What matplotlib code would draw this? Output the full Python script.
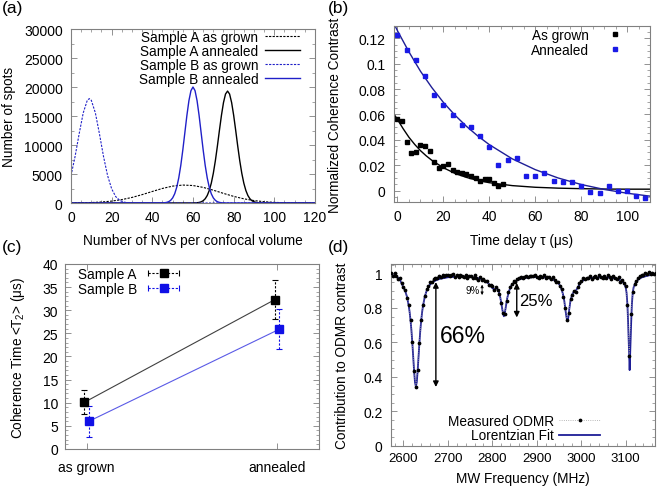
import numpy as np
import matplotlib
matplotlib.use("Agg")
import matplotlib.pyplot as plt
from matplotlib.ticker import AutoMinorLocator, FuncFormatter
from matplotlib.container import ErrorbarContainer
from matplotlib.legend_handler import HandlerErrorbar

plt.rcParams['font.family'] = ['Liberation Sans', 'DejaVu Sans']
plt.rcParams['mathtext.fontset'] = 'custom'
plt.rcParams['mathtext.rm'] = 'Liberation Sans'
plt.rcParams['mathtext.it'] = 'Liberation Sans:italic'

# ---------------- (a) histogram distributions ----------------
a_x_bg = [0, 2, 4, 6, 8, 9, 10, 12, 14, 16, 18, 20, 22, 24, 26, 28, 30, 120]
a_y_bg = [4720, 8010, 11910, 15520, 17700, 18000, 17700, 15520, 11910, 8010, 4720, 2440, 1100, 440, 152, 46, 11, 0]

a_x_ba = [0, 44, 46, 47, 48, 49, 50, 51, 52, 53, 54, 55, 56, 57, 58, 59, 60, 61, 62, 63, 64, 65, 66,
          67, 68, 69, 70, 71, 72, 73, 74, 76, 120]
a_y_ba = [0, 10, 44, 102, 222, 456, 880, 1590, 2710, 4330, 6490, 9160, 12130, 15100, 17650, 19380, 20000,
          19380, 17650, 15100, 12130, 9160, 6490, 4330, 2710, 1590, 880, 456, 222, 102, 44, 10, 0]

a_x_aa = [0, 60, 62, 63, 64, 65, 66, 67, 68, 69, 70, 71, 72, 73, 74, 75, 76, 77, 78, 79, 80, 81, 82,
          83, 84, 85, 86, 87, 88, 89, 90, 91, 92, 94, 120]
a_y_aa = [0, 10, 45, 96, 200, 395, 730, 1290, 2160, 3420, 5130, 7290, 9820, 12530, 15130, 17320, 18790,
          19300, 18790, 17320, 15130, 12530, 9820, 7290, 5130, 3420, 2160, 1290, 730, 395, 200, 96, 45, 10, 0]

a_x_ag = [0, 5, 10, 15, 20, 25, 30, 35, 40, 45, 50, 55, 60, 65, 70, 75, 80, 85, 90, 95, 100, 105, 110, 115, 120]
a_y_ag = [14, 34, 80, 169, 330, 588, 962, 1446, 1991, 2515, 2913, 3095, 3015, 2695, 2209, 1660, 1144, 724,
          420, 223, 109, 49, 20, 8, 3]

# ---------------- (b) coherence contrast ----------------
b_t_grown = [0, 2, 4, 6, 8, 10, 12, 14, 16, 18, 20, 22, 24, 26, 28, 30, 32, 34, 36, 38, 40, 42, 44, 46]
b_c_grown = [0.0563, 0.0545, 0.038, 0.0296, 0.030, 0.0359, 0.0348, 0.0314, 0.0223, 0.0176, 0.019, 0.021,
             0.0165, 0.0144, 0.0139, 0.0131, 0.0118, 0.010, 0.0079, 0.0092, 0.0092, 0.006, 0.0039, 0.005]
b_t_ann = [0, 4, 8, 12, 16, 20, 24, 28, 32, 36, 40, 44, 48, 52, 56, 60, 64, 68, 72, 76, 80, 84, 88, 92,
           96, 100, 104, 108]
b_c_ann = [0.1223, 0.1108, 0.1027, 0.090, 0.0752, 0.0673, 0.0597, 0.0516, 0.0498, 0.0427, 0.034, 0.0202,
           0.0241, 0.0259, 0.0118, 0.0118, 0.0139, 0.0079, 0.0065, 0.0065, 0.0034, -0.0013, -0.0018,
           0.0039, 0.0, 0.0, -0.0039, -0.006]
b_fit_t_grown = [-1.5, 0, 2.5, 5, 7.5, 10, 12.5, 15, 20, 25, 30, 35, 40, 50, 60, 70, 80, 90, 100, 110]
b_fit_grown = [0.0602, 0.056, 0.0487, 0.042, 0.0364, 0.0315, 0.0274, 0.0238, 0.018, 0.0136, 0.0104,
               0.0080, 0.0062, 0.0039, 0.0026, 0.0019, 0.0015, 0.0012, 0.0011, 0.0011]
b_fit_t_ann = [-1.5, 0, 5, 10, 15, 20, 25, 30, 35, 40, 50, 60, 70, 80, 90, 100, 110]
b_fit_ann = [0.1315, 0.126, 0.1093, 0.0941, 0.0811, 0.0695, 0.0595, 0.0507, 0.0430, 0.0362, 0.0250,
             0.0165, 0.0099, 0.0048, 0.0009, -0.0021, -0.0044]

# ---------------- (c) coherence time ----------------
c_categories = ['as grown', 'annealed']
c_A = [10.1, 32.3]
c_A_err = [2.6, 4.3]
c_B = [6.0, 25.9]
c_B_err = [3.4, 4.35]

# ---------------- (d) ODMR ----------------
d_freq = np.arange(2572, 3169, 4)
d_meas = [1.001, 0.987, 1.000, 0.984, 0.969, 0.973, 0.947, 0.920, 0.905, 0.860,
          0.815, 0.728, 0.603, 0.433, 0.342, 0.440, 0.597, 0.733, 0.818, 0.870,
          0.910, 0.925, 0.948, 0.952, 0.967, 0.975, 0.972, 0.984, 0.980, 0.991,
          0.983, 0.989, 0.994, 0.985, 0.991, 0.998, 0.982, 0.994, 0.978, 0.994,
          0.988, 0.982, 0.993, 0.976, 0.983, 0.988, 0.975, 0.990, 0.976, 0.965,
          0.978, 0.962, 0.968, 0.957, 0.956, 0.935, 0.931, 0.925, 0.906, 0.920,
          0.905, 0.883, 0.830, 0.773, 0.767, 0.840, 0.890, 0.920, 0.940, 0.955,
          0.953, 0.970, 0.976, 0.982, 0.973, 0.978, 0.988, 0.977, 0.986, 0.984,
          0.983, 0.993, 0.982, 0.976, 0.987, 0.979, 0.989, 0.972, 0.978, 0.982,
          0.967, 0.980, 0.962, 0.950, 0.950, 0.930, 0.910, 0.863, 0.800, 0.733,
          0.772, 0.850, 0.877, 0.900, 0.895, 0.920, 0.946, 0.958, 0.975, 0.970,
          0.975, 0.972, 0.985, 0.970, 0.979, 0.986, 0.974, 0.991, 0.979, 0.971,
          0.986, 0.973, 0.989, 0.978, 0.969, 0.984, 0.976, 0.967, 0.980, 0.953,
          0.962, 0.945, 0.925, 0.815, 0.520, 0.765, 0.895, 0.940, 0.955, 0.972,
          0.985, 0.990, 0.993, 1.002, 0.998, 1.006, 0.995, 1.003, 0.999, 1.005]
d_fit_f = [2572, 2580, 2588, 2593, 2598, 2604, 2608, 2612, 2614, 2616, 2618, 2620, 2622, 2624, 2626,
           2628, 2630, 2632, 2634, 2636, 2638, 2640, 2642, 2644, 2648, 2652, 2658, 2666, 2680, 2700,
           2720, 2740, 2760, 2775, 2785, 2792, 2797, 2801, 2805, 2809, 2812, 2815, 2818, 2820, 2822,
           2824, 2826, 2828, 2830, 2833, 2837, 2843, 2850, 2862, 2880, 2900, 2920, 2935, 2945, 2950,
           2955, 2959, 2962, 2965, 2967, 2969, 2971, 2973, 2976, 2980, 2984, 2988, 2992, 2997, 3003,
           3013, 3030, 3050, 3070, 3082, 3090, 3096, 3100, 3102, 3104, 3105.5, 3107, 3109, 3111,
           3112.5, 3114, 3116, 3118, 3122, 3128, 3136, 3150, 3168]
d_fit = [0.993, 0.988, 0.975, 0.96, 0.93, 0.899, 0.865, 0.812, 0.775, 0.728, 0.67, 0.599, 0.517, 0.435,
         0.37, 0.345, 0.37, 0.435, 0.517, 0.599, 0.67, 0.728, 0.775, 0.812, 0.865, 0.899, 0.93, 0.952,
         0.968, 0.978, 0.982, 0.982, 0.977, 0.968, 0.955, 0.94, 0.925, 0.913, 0.908, 0.915, 0.908, 0.89,
         0.86, 0.83, 0.80, 0.77, 0.752, 0.77, 0.80, 0.85, 0.895, 0.93, 0.952, 0.968, 0.977, 0.98, 0.977,
         0.968, 0.953, 0.94, 0.915, 0.88, 0.84, 0.78, 0.745, 0.725, 0.745, 0.79, 0.845, 0.88, 0.895,
         0.9, 0.918, 0.94, 0.958, 0.97, 0.977, 0.978, 0.975, 0.967, 0.958, 0.945, 0.92, 0.89, 0.82, 0.72,
         0.6, 0.44, 0.6, 0.72, 0.82, 0.89, 0.92, 0.945, 0.965, 0.977, 0.988, 0.996]

# ---------------- styling ----------------
FRAME = '#808080'
BLUE = '#2020c8'
NAVY = '#1e1e96'
TICK_FS = 10
LABEL_FS = 9.8
LEG_FS = 9.8


def style(ax, xminor, yminor):
    for s in ax.spines.values():
        s.set_color(FRAME)
        s.set_linewidth(0.8)
    ax.tick_params(which='both', direction='in', top=True, right=True, color=FRAME,
                   labelsize=TICK_FS, labelcolor='black')
    ax.tick_params(which='major', length=4, width=0.6)
    ax.tick_params(which='minor', length=2, width=0.5)
    if xminor:
        ax.xaxis.set_minor_locator(AutoMinorLocator(xminor))
    if yminor:
        ax.yaxis.set_minor_locator(AutoMinorLocator(yminor))


gfmt = FuncFormatter(lambda v, p: '%g' % round(v, 6))

fig = plt.figure(figsize=(6.58, 4.89), dpi=100)

# (a)
axa = fig.add_axes([0.1079, 0.5828, 0.3708, 0.3558])
axa.plot(a_x_ag, a_y_ag, color='black', ls=(0, (2, 1.2)), lw=0.8, label='Sample A as grown')
axa.plot(a_x_aa, a_y_aa, color='black', lw=1.0, label='Sample A annealed')
axa.plot(a_x_bg, a_y_bg, color=BLUE, ls=(0, (2, 1.2)), lw=0.8, label='Sample B as grown')
axa.plot(a_x_ba, a_y_ba, color=BLUE, lw=1.0, label='Sample B annealed')
axa.set_xlim(0, 120)
axa.set_ylim(0, 30000)
axa.set_xticks(np.arange(0, 121, 20))
axa.set_yticks(np.arange(0, 30001, 5000))
style(axa, 4, 2)
axa.tick_params(axis='y', pad=6)
axa.tick_params(axis='x', pad=5)
axa.set_xlabel('Number of NVs per confocal volume', fontsize=LABEL_FS)
axa.set_ylabel('Number of spots', fontsize=LABEL_FS)
axa.xaxis.set_label_coords(0.5, -0.17)
axa.yaxis.set_label_coords(-0.225, 0.5)
axa.legend(loc='upper right', bbox_to_anchor=(0.9385, 0.993), frameon=False, markerfirst=False,
           fontsize=LEG_FS, handlelength=2.6, handletextpad=0.45, labelspacing=0.0,
           borderpad=0, borderaxespad=0)

# (b)
axb = fig.add_axes([0.5988, 0.5849, 0.3891, 0.3599])
axb.plot(b_fit_t_grown, b_fit_grown, color='black', lw=1.0)
axb.plot(b_fit_t_ann, b_fit_ann, color=NAVY, lw=1.0)
axb.plot(b_t_grown, b_c_grown, 's', color='black', ms=2.8, ls='none', label='As grown')
axb.plot(b_t_ann, b_c_ann, 's', color='#1a1ae6', ms=2.8, ls='none', label='Annealed')
axb.set_xlim(-1.5, 110)
axb.set_ylim(-0.009, 0.1297)
axb.set_xticks(np.arange(0, 101, 20))
axb.set_yticks(np.arange(0, 0.121, 0.02))
axb.yaxis.set_major_formatter(gfmt)
style(axb, 4, 4)
axb.tick_params(axis='y', pad=6)
axb.tick_params(axis='x', pad=5)
axb.set_xlabel('Time delay τ (μs)', fontsize=LABEL_FS)
axb.set_ylabel('Normalized Coherence Contrast', fontsize=LABEL_FS)
axb.xaxis.set_label_coords(0.5, -0.175)
axb.yaxis.set_label_coords(-0.205, 0.5)
axb.legend(loc='upper right', bbox_to_anchor=(0.889, 0.99), frameon=False, markerfirst=False,
           fontsize=LEG_FS, handlelength=1.0, handletextpad=1.4, labelspacing=0.08, numpoints=1,
           borderpad=0, borderaxespad=0)

# (c)
axc = fig.add_axes([0.0988, 0.0798, 0.386, 0.3783])
xa = np.arange(len(c_categories)) - 0.012
xb = np.arange(len(c_categories)) + 0.012
axc.plot(xa, c_A, color='#404040', lw=0.8)
axc.plot(xb, c_B, color='#5a5ae6', lw=0.8)
DASH = (0, (2, 1.5))
ebA = axc.errorbar(xa, c_A, yerr=c_A_err, fmt='s', color='black', ms=6, capsize=2, elinewidth=0.8,
                   capthick=0.8)
ebB = axc.errorbar(xb, c_B, yerr=c_B_err, fmt='s', color='#1010e6', ms=6, capsize=2, elinewidth=0.8,
                   capthick=0.8)
for eb in (ebA, ebB):
    for lc in eb[2]:
        lc.set_linestyle(DASH)
# legend proxies (horizontal error bars, like the gnuplot key)
pA = axc.errorbar([np.nan], [np.nan], xerr=[1], fmt='s', color='black', ms=6, capsize=2,
                  elinewidth=0.8, capthick=0.8)
pB = axc.errorbar([np.nan], [np.nan], xerr=[1], fmt='s', color='#1010e6', ms=6, capsize=2,
                  elinewidth=0.8, capthick=0.8)
for eb in (pA, pB):
    for lc in eb[2]:
        lc.set_linestyle(DASH)
axc.set_xlim(-0.114, 1.22)
axc.set_ylim(0, 40)
axc.set_xticks([0, 1])
axc.set_xticklabels(c_categories)
axc.set_yticks(np.arange(0, 41, 5))
style(axc, None, 5)
axc.tick_params(axis='y', pad=5)
axc.tick_params(axis='x', pad=8)
axc.set_ylabel('Coherence Time <T$_\\mathregular{2}$> (μs)', fontsize=LABEL_FS)
axc.yaxis.set_label_coords(-0.15, 0.5)
axc.legend([pA, pB], ['Sample A', 'Sample B'], loc='upper left',
           bbox_to_anchor=(0.05, 0.985), frameon=False, markerfirst=False, fontsize=LEG_FS,
           handlelength=2.5, handletextpad=0.7, labelspacing=0.08, numpoints=1,
           borderpad=0, borderaxespad=0,
           handler_map={ErrorbarContainer: HandlerErrorbar(xerr_size=1.15)})

# (d)
axd = fig.add_axes([0.5942, 0.0859, 0.4012, 0.3722])
axd.plot(d_fit_f, d_fit, color=NAVY, lw=1.3, label='Lorentzian Fit', zorder=2)
axd.plot(d_freq, d_meas, color='#a0a0a0', ls=':', lw=0.6, marker='o', ms=1.7, mfc='black',
         mec='black', label='Measured ODMR', zorder=3)
axd.set_xlim(2572, 3166)
axd.set_ylim(0, 1.055)
axd.set_xticks(np.arange(2600, 3101, 100))
axd.set_yticks(np.arange(0, 1.01, 0.2))
axd.yaxis.set_major_formatter(gfmt)
style(axd, 5, 4)
axd.tick_params(axis='x', labelsize=9.5)
axd.tick_params(axis='y', pad=6)
axd.tick_params(axis='x', pad=4)
axd.set_xlabel('MW Frequency (MHz)', fontsize=LABEL_FS)
axd.set_ylabel('Contribution to ODMR contrast', fontsize=LABEL_FS)
axd.xaxis.set_label_coords(0.5, -0.14)
axd.yaxis.set_label_coords(-0.158, 0.5)
h, l = axd.get_legend_handles_labels()
axd.legend(h[::-1], l[::-1], loc='lower right', bbox_to_anchor=(0.792, 0.02), frameon=False,
           markerfirst=False, fontsize=LEG_FS, handlelength=3.0, handletextpad=0.4,
           labelspacing=0.05, numpoints=1, borderpad=0, borderaxespad=0)

arrow_kw = dict(arrowstyle='<|-|>', color='black', lw=1.0, mutation_scale=8, shrinkA=0, shrinkB=0)
axd.annotate('', xy=(2673, 0.342), xytext=(2673, 0.95), arrowprops=arrow_kw)
axd.text(2683, 0.64, '66%', fontsize=16.5, va='center', ha='left')
axd.annotate('', xy=(2855, 0.745), xytext=(2855, 0.945), arrowprops=arrow_kw)
axd.text(2861, 0.845, '25%', fontsize=12, va='center', ha='left')
small_kw = dict(arrowstyle='<|-|>', color='black', lw=0.6, mutation_scale=4, shrinkA=0, shrinkB=0)
axd.annotate('', xy=(2777, 0.875), xytext=(2777, 0.935), arrowprops=small_kw)
axd.text(2772, 0.905, '9%', fontsize=7, va='center', ha='right')

# panel labels
fig.text(0.003, 0.998, '(a)', fontsize=12.5, va='top', ha='left')
fig.text(0.499, 0.998, '(b)', fontsize=12.5, va='top', ha='left')
fig.text(0.003, 0.51, '(c)', fontsize=12.5, va='top', ha='left')
fig.text(0.499, 0.51, '(d)', fontsize=12.5, va='top', ha='left')

fig.savefig('out.png', dpi=100)
